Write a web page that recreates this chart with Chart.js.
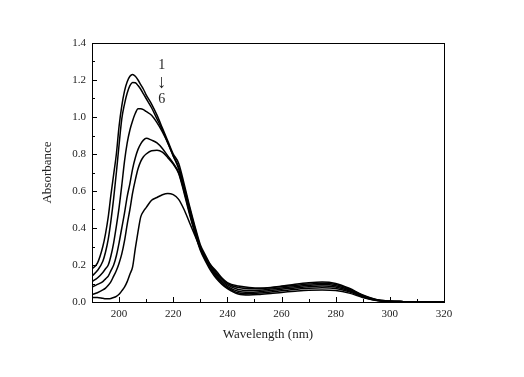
<!DOCTYPE html>
<html>
<head>
<meta charset="utf-8">
<script src="https://cdn.jsdelivr.net/npm/chart.js@4/dist/chart.umd.min.js"></script>
<style>
  html, body { margin: 0; padding: 0; background: #fff; }
  #wrap { width: 524px; height: 377px; position: relative; }
</style>
</head>
<body>
<div id="wrap"><canvas id="uv"></canvas></div>
<script>
// wavelength grid (nm)
const WAVELENGTHS = [190,192,194,195,196,197,198,199,200,201,202,203,204,205,206,207,208,209,210,212,214,216,218,220,222,224,226,228,230,232,234,236,238,240,244,248,252,256,260,265,270,275,280,285,290,295,300,305,310,320];

// absorbance spectra 1 -> 6
const SPEC_1 = [0.18,0.21,0.30,0.37,0.46,0.58,0.69,0.80,0.95,1.06,1.14,1.19,1.22,1.23,1.22,1.20,1.175,1.15,1.12,1.07,1.01,0.94,0.87,0.80,0.75,0.64,0.52,0.41,0.31,0.25,0.195,0.155,0.125,0.10,0.078,0.072,0.072,0.077,0.083,0.090,0.097,0.101,0.095,0.071,0.036,0.012,0.004,0.002,0.001,0];
const SPEC_2 = [0.14,0.17,0.22,0.27,0.34,0.44,0.56,0.70,0.85,0.99,1.07,1.13,1.17,1.187,1.185,1.17,1.15,1.125,1.10,1.05,0.99,0.93,0.86,0.79,0.73,0.625,0.51,0.40,0.30,0.24,0.187,0.147,0.116,0.092,0.068,0.062,0.064,0.070,0.076,0.083,0.090,0.094,0.088,0.066,0.033,0.011,0.004,0.002,0.001,0];
const SPEC_3 = [0.11,0.13,0.16,0.18,0.20,0.25,0.32,0.41,0.51,0.63,0.76,0.86,0.93,0.98,1.02,1.045,1.045,1.04,1.03,1.01,0.97,0.92,0.86,0.79,0.72,0.61,0.495,0.39,0.295,0.233,0.18,0.14,0.108,0.085,0.058,0.053,0.056,0.062,0.069,0.076,0.083,0.086,0.081,0.061,0.030,0.010,0.004,0.002,0.001,0];
const SPEC_4 = [0.08,0.095,0.11,0.125,0.14,0.17,0.20,0.25,0.32,0.40,0.48,0.57,0.64,0.72,0.78,0.825,0.855,0.875,0.885,0.875,0.86,0.83,0.79,0.75,0.70,0.60,0.485,0.38,0.288,0.225,0.172,0.132,0.10,0.078,0.050,0.045,0.048,0.054,0.061,0.068,0.074,0.077,0.073,0.055,0.027,0.009,0.003,0.002,0.001,0];
const SPEC_5 = [0.04,0.05,0.065,0.075,0.09,0.11,0.14,0.17,0.21,0.26,0.33,0.42,0.50,0.59,0.66,0.72,0.76,0.785,0.80,0.818,0.82,0.81,0.78,0.745,0.695,0.59,0.475,0.372,0.28,0.218,0.165,0.125,0.095,0.072,0.043,0.038,0.041,0.046,0.052,0.058,0.063,0.065,0.062,0.048,0.024,0.008,0.003,0.002,0.001,0];
const SPEC_6 = [0.025,0.024,0.02,0.018,0.017,0.019,0.024,0.031,0.042,0.06,0.08,0.11,0.15,0.19,0.29,0.38,0.46,0.49,0.51,0.55,0.565,0.58,0.587,0.58,0.555,0.50,0.43,0.36,0.29,0.235,0.197,0.165,0.13,0.105,0.086,0.079,0.076,0.079,0.086,0.096,0.104,0.108,0.100,0.074,0.038,0.013,0.005,0.002,0.001,0];

const SERIES = [SPEC_1, SPEC_2, SPEC_3, SPEC_4, SPEC_5, SPEC_6];
const X_MIN = 190, X_MAX = 320, Y_MIN = 0, Y_MAX = 1.4;
const X_TICKS = [200, 220, 240, 260, 280, 300, 320];
const Y_TICKS = [0, 0.2, 0.4, 0.6, 0.8, 1.0, 1.2, 1.4];
const ANNOT = ['1', '\u2193', '6'];

const SERIF = '"Liberation Serif", "DejaVu Serif", serif';

const datasets = SERIES.map((vals, i) => ({
  label: 'Spectrum ' + (i + 1),
  data: WAVELENGTHS.map((w, k) => ({ x: w, y: vals[k] })),
  borderColor: '#000',
  borderWidth: 1.5,
  pointRadius: 0,
  fill: false,
  cubicInterpolationMode: 'monotone'
}));

// inward ticks + frame + "1 ↓ 6" label
const framePlugin = {
  id: 'frame',
  afterDraw(chart) {
    const { ctx, chartArea: a, scales: { x, y } } = chart;
    ctx.save();
    ctx.strokeStyle = '#000';
    ctx.lineWidth = 1;
    ctx.strokeRect(a.left + 0.5, a.top + 0.5, a.right - a.left, a.bottom - a.top);
    ctx.beginPath();
    for (let v = X_MIN; v <= X_MAX; v += 10) {
      const px = Math.round(x.getPixelForValue(v)) + 0.5;
      const len = (v % 20 === 0) ? 5 : 3;
      ctx.moveTo(px, a.bottom);
      ctx.lineTo(px, a.bottom - len);
    }
    for (let k = 0; k <= 14; k++) {
      const py = Math.round(y.getPixelForValue(k / 10)) + 0.5;
      const len = (k % 2 === 0) ? 5 : 3;
      ctx.moveTo(a.left, py);
      ctx.lineTo(a.left + len, py);
    }
    ctx.stroke();

    ctx.fillStyle = '#222';
    ctx.textAlign = 'center';
    ctx.textBaseline = 'middle';
    const ax = x.getPixelForValue(215.8);
    ctx.font = '14px ' + SERIF;
    ctx.fillText(ANNOT[0], ax, y.getPixelForValue(1.281));
    ctx.fillText(ANNOT[2], ax, y.getPixelForValue(1.094));
    ctx.font = '19px ' + SERIF;
    ctx.fillText(ANNOT[1], ax, y.getPixelForValue(1.185));
    ctx.restore();
  }
};

new Chart(document.getElementById('uv'), {
  type: 'line',
  data: { datasets },
  plugins: [framePlugin],
  options: {
    responsive: true, maintainAspectRatio: false,
    animation: false,
    layout: { padding: { left: 0, right: 80, top: 43, bottom: 0 } },
    plugins: { legend: { display: false }, tooltip: { enabled: false } },
    scales: {
      x: {
        type: 'linear', min: X_MIN, max: X_MAX,
        afterBuildTicks: s => { s.ticks = X_TICKS.map(v => ({ value: v })); },
        afterFit: s => { s.height = 75; },
        border: { display: false },
        grid: { display: false, drawTicks: false },
        ticks: {
          autoSkip: false, maxRotation: 0, padding: 6, color: '#222',
          font: { family: SERIF, size: 11 }
        },
        title: {
          display: true, text: 'Wavelength (nm)', color: '#222',
          font: { family: SERIF, size: 13 },
          padding: { top: 0, bottom: 35 }
        }
      },
      y: {
        type: 'linear', min: Y_MIN, max: Y_MAX,
        afterBuildTicks: s => { s.ticks = Y_TICKS.map(v => ({ value: v })); },
        afterFit: s => { s.width = 92; },
        border: { display: false },
        grid: { display: false, drawTicks: false },
        ticks: {
          autoSkip: false, padding: 6, color: '#222',
          font: { family: SERIF, size: 11 },
          callback: v => Number(v).toFixed(1)
        },
        title: {
          display: true, text: 'Absorbance', color: '#222',
          font: { family: SERIF, size: 13 },
          padding: { top: 40, bottom: 0 }
        }
      }
    }
  }
});
</script>
</body>
</html>
